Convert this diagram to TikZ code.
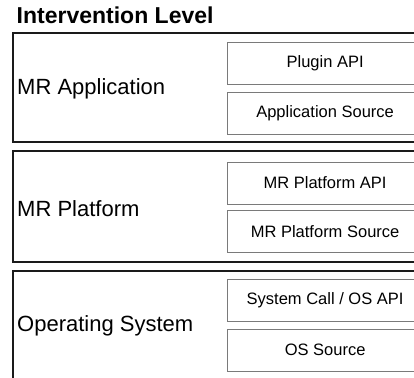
\documentclass[tikz,border=0pt]{standalone}
\usepackage{fontspec}
\setmainfont{Liberation Sans}
\definecolor{outerline}{HTML}{1A1A1A}
\definecolor{innerline}{HTML}{7A7A7A}
\begin{document}
\begin{tikzpicture}[x=1pt,y=-1pt,
  layerbox/.style={draw=outerline, line width=2pt, anchor=north west,
    minimum width=420pt, inner sep=0pt},
  partbox/.style={draw=innerline, line width=1.2pt, anchor=north west,
    minimum width=195pt, minimum height=42pt, inner sep=0pt,
    font=\fontsize{16.5}{20}\selectfont},
  layerlabel/.style={anchor=west, inner sep=0pt,
    font=\fontsize{22}{26}\selectfont},
  titlelabel/.style={anchor=base west, inner sep=0pt,
    font=\fontsize{23}{27}\selectfont\bfseries}]
\useasboundingbox (0,0) rectangle (414,377);
\clip (0,0) rectangle (414,377);

\node[titlelabel] (title) at (16.5,23.3) {Intervention Level};

% application layer
\node[layerbox, minimum height=109pt] (app) at (12,32) {};
\node[layerlabel] (applbl) at (17,89) {MR Application};
\node[partbox] (plugin) at (227,41.7) {Plugin API};
\node[partbox] (appsrc) at (227,91.8) {Application Source};

% platform layer
\node[layerbox, minimum height=110.5pt] (plat) at (12,150) {};
\node[layerlabel] (platlbl) at (17,208.5) {MR Platform};
\node[partbox] (platapi) at (227,161.5) {MR Platform API};
\node[partbox] (platsrc) at (227,210) {MR Platform Source};

% operating system layer
\node[layerbox, minimum height=120pt] (os) at (12,270) {};
\node[layerlabel] (oslbl) at (17,325.5) {Operating System};
\node[partbox] (osapi) at (227,278.5) {System Call / OS API};
\node[partbox] (ossrc) at (227,328.5) {OS Source};
\end{tikzpicture}
\end{document}
